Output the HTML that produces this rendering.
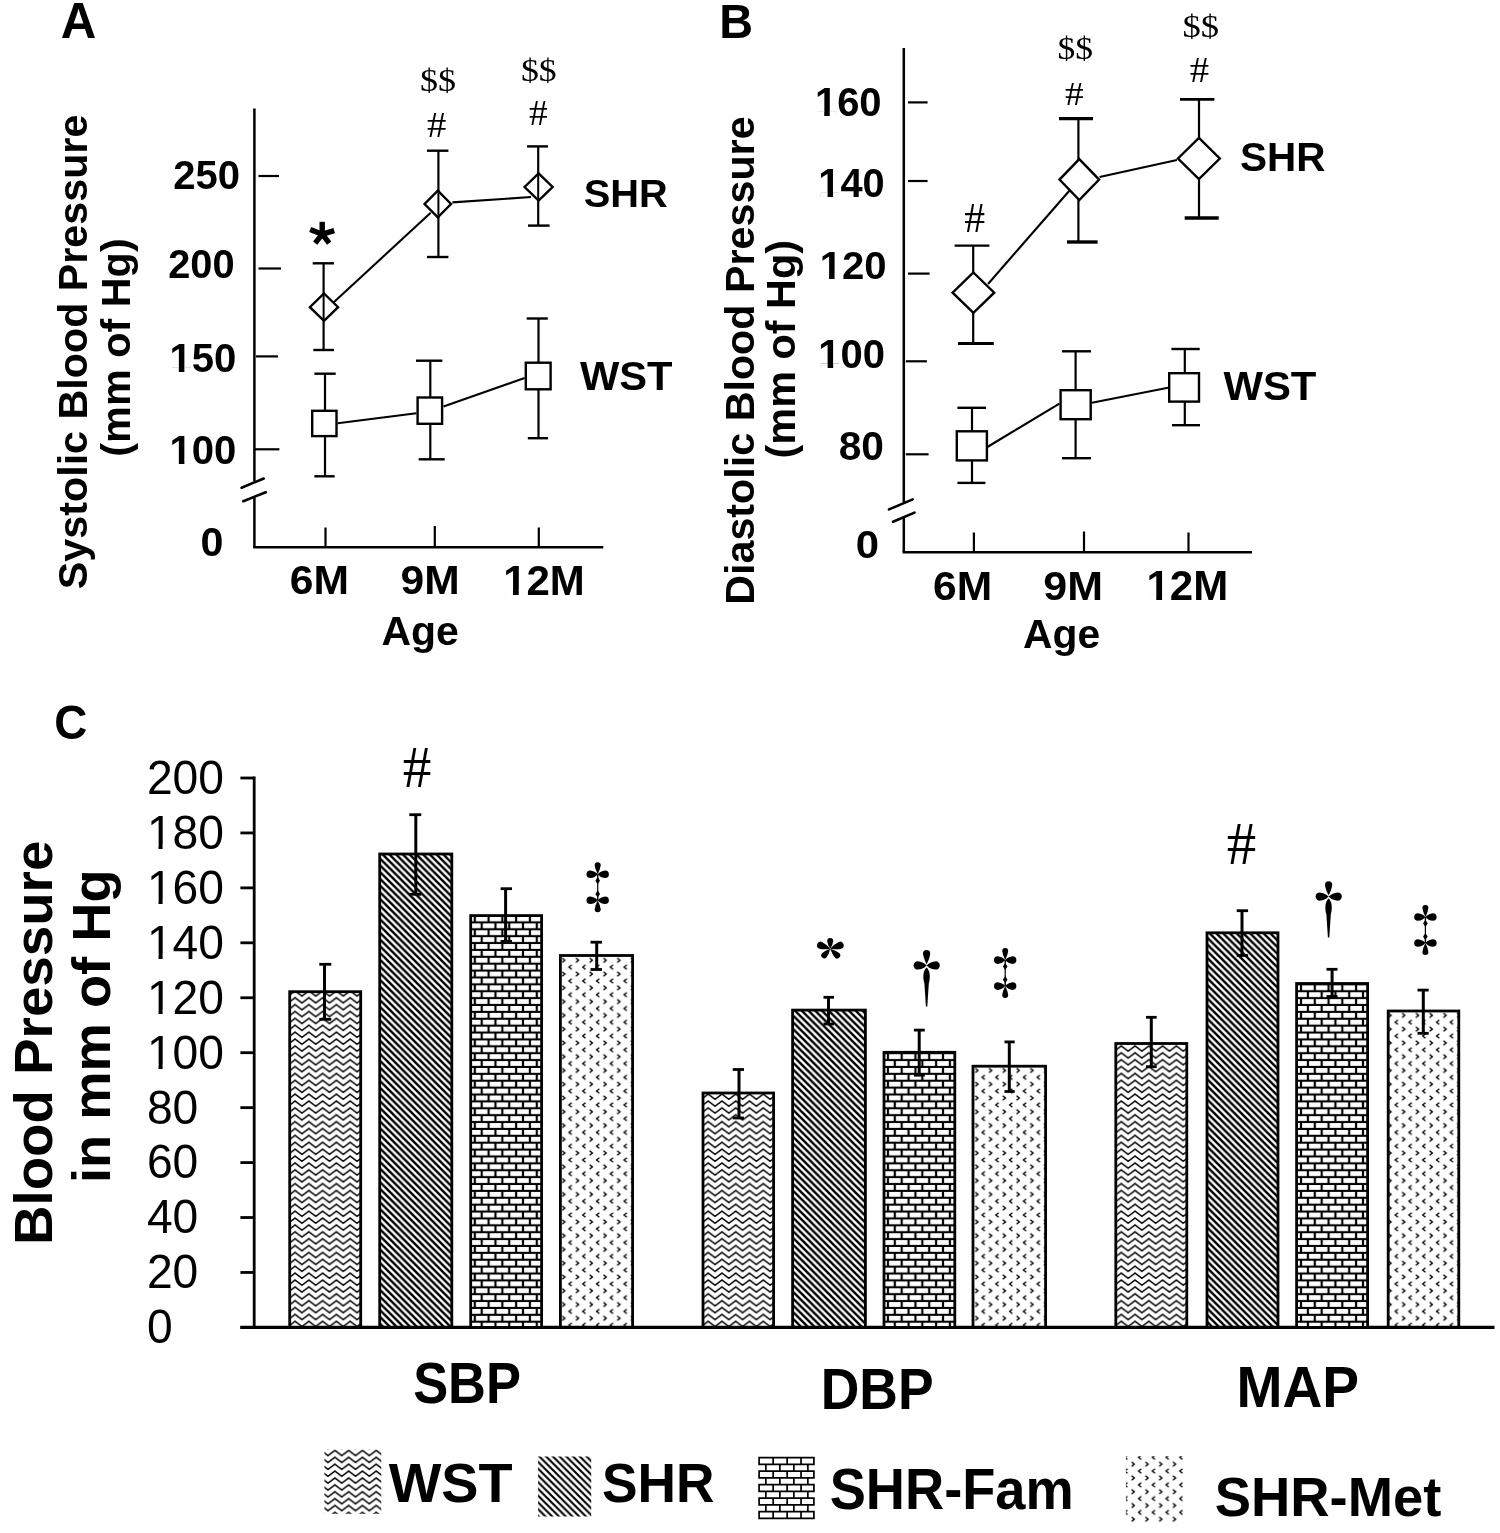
<!DOCTYPE html><html><head><meta charset="utf-8"><style>html,body{margin:0;padding:0;background:#fff;}svg{display:block;filter:grayscale(1);}</style></head><body>
<svg width="1500" height="1533" viewBox="0 0 1500 1533">
<rect width="1500" height="1533" fill="#fff"/>
<g stroke="#000" fill="none">
<line x1="254.40" y1="108.60" x2="254.40" y2="481.00" stroke-width="2.5" stroke-linecap="butt"/>
<line x1="254.40" y1="496.00" x2="254.40" y2="547.50" stroke-width="2.5" stroke-linecap="butt"/>
<line x1="253.20" y1="547.30" x2="603.30" y2="547.30" stroke-width="2.5" stroke-linecap="butt"/>
<line x1="241.60" y1="487.70" x2="263.70" y2="478.50" stroke-width="2.6" stroke-linecap="round"/>
<line x1="243.30" y1="501.20" x2="265.80" y2="492.30" stroke-width="2.6" stroke-linecap="round"/>
<line x1="258.50" y1="176.00" x2="279.00" y2="176.00" stroke-width="2.2" stroke-linecap="butt"/>
<line x1="258.50" y1="268.50" x2="281.00" y2="268.50" stroke-width="2.2" stroke-linecap="butt"/>
<line x1="256.00" y1="356.40" x2="278.00" y2="356.40" stroke-width="2.2" stroke-linecap="butt"/>
<line x1="254.00" y1="449.30" x2="279.40" y2="449.30" stroke-width="2.2" stroke-linecap="butt"/>
<line x1="325.50" y1="527.50" x2="325.50" y2="547.00" stroke-width="2.2" stroke-linecap="butt"/>
<line x1="434.80" y1="526.00" x2="434.80" y2="547.00" stroke-width="2.2" stroke-linecap="butt"/>
<line x1="538.80" y1="527.50" x2="538.80" y2="547.00" stroke-width="2.2" stroke-linecap="butt"/>
<line x1="903.80" y1="48.00" x2="903.80" y2="502.00" stroke-width="2.5" stroke-linecap="butt"/>
<line x1="903.80" y1="516.80" x2="903.80" y2="552.30" stroke-width="2.5" stroke-linecap="butt"/>
<line x1="902.60" y1="552.20" x2="1252.00" y2="552.20" stroke-width="2.5" stroke-linecap="butt"/>
<line x1="889.00" y1="509.40" x2="912.70" y2="499.40" stroke-width="2.6" stroke-linecap="round"/>
<line x1="893.00" y1="521.80" x2="914.50" y2="512.60" stroke-width="2.6" stroke-linecap="round"/>
<line x1="908.00" y1="102.40" x2="927.60" y2="102.40" stroke-width="2.2" stroke-linecap="butt"/>
<line x1="908.00" y1="181.00" x2="927.60" y2="181.00" stroke-width="2.2" stroke-linecap="butt"/>
<line x1="908.00" y1="273.60" x2="929.60" y2="273.60" stroke-width="2.2" stroke-linecap="butt"/>
<line x1="905.80" y1="361.30" x2="926.90" y2="361.30" stroke-width="2.2" stroke-linecap="butt"/>
<line x1="905.80" y1="454.30" x2="928.60" y2="454.30" stroke-width="2.2" stroke-linecap="butt"/>
<line x1="973.90" y1="532.50" x2="973.90" y2="552.00" stroke-width="2.2" stroke-linecap="butt"/>
<line x1="1084.00" y1="531.50" x2="1084.00" y2="552.00" stroke-width="2.2" stroke-linecap="butt"/>
<line x1="1188.50" y1="532.50" x2="1188.50" y2="552.00" stroke-width="2.2" stroke-linecap="butt"/>
</g>
<g stroke="#000" fill="none">
<line x1="332.70" y1="303.30" x2="430.70" y2="212.70" stroke-width="2.1" stroke-linecap="butt"/>
<line x1="452.40" y1="202.40" x2="531.00" y2="197.00" stroke-width="2.1" stroke-linecap="butt"/>
<line x1="337.70" y1="423.30" x2="416.40" y2="413.30" stroke-width="2.1" stroke-linecap="butt"/>
<line x1="443.50" y1="406.60" x2="524.60" y2="378.00" stroke-width="2.1" stroke-linecap="butt"/>
<line x1="323.60" y1="263.30" x2="323.60" y2="350.00" stroke-width="2.2" stroke-linecap="butt"/>
<line x1="312.70" y1="263.30" x2="334.00" y2="263.30" stroke-width="2.4" stroke-linecap="butt"/>
<line x1="313.30" y1="350.00" x2="334.00" y2="350.00" stroke-width="2.4" stroke-linecap="butt"/>
<line x1="438.40" y1="150.70" x2="438.40" y2="257.00" stroke-width="2.2" stroke-linecap="butt"/>
<line x1="427.00" y1="150.70" x2="448.40" y2="150.70" stroke-width="2.4" stroke-linecap="butt"/>
<line x1="427.00" y1="257.00" x2="448.40" y2="257.00" stroke-width="2.4" stroke-linecap="butt"/>
<line x1="538.20" y1="146.40" x2="538.20" y2="225.60" stroke-width="2.2" stroke-linecap="butt"/>
<line x1="527.00" y1="146.40" x2="548.00" y2="146.40" stroke-width="2.4" stroke-linecap="butt"/>
<line x1="528.00" y1="225.60" x2="549.60" y2="225.60" stroke-width="2.4" stroke-linecap="butt"/>
<polygon points="324.00,293.50 338.10,307.20 324.00,320.90 309.90,307.20" stroke-width="2.4" fill="#fff"/>
<polygon points="437.80,190.60 451.00,204.00 437.80,217.40 424.60,204.00" stroke-width="2.4" fill="#fff"/>
<polygon points="538.60,173.40 552.60,187.00 538.60,200.60 524.60,187.00" stroke-width="2.4" fill="#fff"/>
<line x1="323.60" y1="293.00" x2="323.60" y2="321.00" stroke-width="2.0" stroke-linecap="butt"/>
<line x1="438.40" y1="190.00" x2="438.40" y2="218.00" stroke-width="2.0" stroke-linecap="butt"/>
<line x1="538.20" y1="173.00" x2="538.20" y2="201.00" stroke-width="2.0" stroke-linecap="butt"/>
<line x1="325.00" y1="373.70" x2="325.00" y2="476.30" stroke-width="2.2" stroke-linecap="butt"/>
<line x1="314.40" y1="373.70" x2="335.70" y2="373.70" stroke-width="2.4" stroke-linecap="butt"/>
<line x1="314.40" y1="476.30" x2="334.70" y2="476.30" stroke-width="2.4" stroke-linecap="butt"/>
<line x1="430.30" y1="360.70" x2="430.30" y2="459.30" stroke-width="2.2" stroke-linecap="butt"/>
<line x1="416.00" y1="360.70" x2="442.40" y2="360.70" stroke-width="2.4" stroke-linecap="butt"/>
<line x1="418.70" y1="459.30" x2="444.70" y2="459.30" stroke-width="2.4" stroke-linecap="butt"/>
<line x1="538.50" y1="318.50" x2="538.50" y2="438.20" stroke-width="2.2" stroke-linecap="butt"/>
<line x1="526.70" y1="318.50" x2="547.80" y2="318.50" stroke-width="2.4" stroke-linecap="butt"/>
<line x1="527.80" y1="438.20" x2="548.00" y2="438.20" stroke-width="2.4" stroke-linecap="butt"/>
<rect x="312.20" y="410.80" width="24.30" height="25.30" stroke-width="2.4" fill="#fff"/>
<rect x="417.60" y="397.50" width="24.50" height="26.30" stroke-width="2.4" fill="#fff"/>
<rect x="525.80" y="362.70" width="24.80" height="26.60" stroke-width="2.4" fill="#fff"/>
<line x1="988.00" y1="284.00" x2="1070.00" y2="190.00" stroke-width="2.1" stroke-linecap="butt"/>
<line x1="1099.60" y1="177.00" x2="1177.00" y2="160.00" stroke-width="2.1" stroke-linecap="butt"/>
<line x1="987.40" y1="447.00" x2="1059.40" y2="403.60" stroke-width="2.1" stroke-linecap="butt"/>
<line x1="1091.90" y1="402.80" x2="1168.00" y2="387.70" stroke-width="2.1" stroke-linecap="butt"/>
<line x1="973.20" y1="245.60" x2="973.20" y2="343.50" stroke-width="2.2" stroke-linecap="butt"/>
<line x1="954.60" y1="245.60" x2="989.40" y2="245.60" stroke-width="2.4" stroke-linecap="butt"/>
<line x1="958.00" y1="343.50" x2="993.80" y2="343.50" stroke-width="3.2" stroke-linecap="butt"/>
<line x1="1078.40" y1="118.60" x2="1078.40" y2="242.00" stroke-width="2.2" stroke-linecap="butt"/>
<line x1="1059.00" y1="118.60" x2="1093.00" y2="118.60" stroke-width="3.2" stroke-linecap="butt"/>
<line x1="1067.00" y1="242.00" x2="1097.60" y2="242.00" stroke-width="3.4" stroke-linecap="butt"/>
<line x1="1199.00" y1="99.40" x2="1199.00" y2="218.00" stroke-width="2.2" stroke-linecap="butt"/>
<line x1="1180.00" y1="99.40" x2="1214.40" y2="99.40" stroke-width="2.8" stroke-linecap="butt"/>
<line x1="1184.70" y1="218.00" x2="1218.70" y2="218.00" stroke-width="3.6" stroke-linecap="butt"/>
<polygon points="973.40,272.50 994.20,292.70 973.40,312.90 952.60,292.70" stroke-width="2.4" fill="#fff"/>
<polygon points="1079.30,159.10 1099.10,179.60 1079.30,200.10 1059.50,179.60" stroke-width="2.4" fill="#fff"/>
<polygon points="1198.90,137.90 1219.80,158.50 1198.90,179.10 1178.00,158.50" stroke-width="2.4" fill="#fff"/>
<line x1="972.00" y1="407.80" x2="972.00" y2="482.90" stroke-width="2.2" stroke-linecap="butt"/>
<line x1="957.40" y1="407.80" x2="986.00" y2="407.80" stroke-width="2.4" stroke-linecap="butt"/>
<line x1="957.40" y1="482.90" x2="985.40" y2="482.90" stroke-width="2.4" stroke-linecap="butt"/>
<line x1="1075.60" y1="351.30" x2="1075.60" y2="458.20" stroke-width="2.2" stroke-linecap="butt"/>
<line x1="1062.00" y1="351.30" x2="1091.00" y2="351.30" stroke-width="2.4" stroke-linecap="butt"/>
<line x1="1062.00" y1="458.20" x2="1091.00" y2="458.20" stroke-width="2.4" stroke-linecap="butt"/>
<line x1="1184.80" y1="349.00" x2="1184.80" y2="425.20" stroke-width="2.2" stroke-linecap="butt"/>
<line x1="1171.40" y1="349.00" x2="1199.70" y2="349.00" stroke-width="2.4" stroke-linecap="butt"/>
<line x1="1172.00" y1="425.20" x2="1200.00" y2="425.20" stroke-width="2.4" stroke-linecap="butt"/>
<rect x="956.80" y="431.30" width="30.10" height="29.10" stroke-width="2.4" fill="#fff"/>
<rect x="1060.60" y="390.20" width="30.10" height="29.00" stroke-width="2.4" fill="#fff"/>
<rect x="1169.20" y="373.20" width="29.80" height="28.40" stroke-width="2.4" fill="#fff"/>
</g>
<g fill="#000">
<g transform="translate(60.77,38.00) scale(0.9844,1)"><text font-family="Liberation Sans" font-weight="bold" font-size="50.04">A</text></g>
<g transform="translate(719.24,37.60) scale(0.9709,1)"><text font-family="Liberation Sans" font-weight="bold" font-size="48.29">B</text></g>
<g transform="translate(54.17,738.52) scale(0.9531,1)"><text font-family="Liberation Sans" font-weight="bold" font-size="48.06">C</text></g>
<g transform="translate(173.20,188.59) scale(0.9774,1)"><text font-family="Liberation Sans" font-weight="bold" font-size="40.99">250</text></g>
<g transform="translate(168.21,277.60) scale(0.9918,1)"><text font-family="Liberation Sans" font-weight="bold" font-size="40.14">200</text></g>
<g transform="translate(169.49,372.20) scale(0.9927,1)"><text font-family="Liberation Sans" font-weight="bold" font-size="40.42">150</text><rect x="2.02" y="-4.72" width="7.40" height="5.32" fill="#fff"/><rect x="15.00" y="-4.72" width="7.03" height="5.32" fill="#fff"/></g>
<g transform="translate(169.49,463.60) scale(1.0068,1)"><text font-family="Liberation Sans" font-weight="bold" font-size="39.86">100</text><rect x="1.99" y="-4.67" width="7.29" height="5.27" fill="#fff"/><rect x="14.79" y="-4.67" width="6.94" height="5.27" fill="#fff"/></g>
<g transform="translate(200.55,556.10) scale(1.0208,1)"><text font-family="Liberation Sans" font-weight="bold" font-size="40.42">0</text></g>
<g transform="translate(86.83,589.14) rotate(-90) scale(1.0232,1)"><text font-family="Liberation Sans" font-weight="bold" font-size="40.32">Systolic Blood Pressure</text></g>
<g transform="translate(129.96,456.67) rotate(-90) scale(1.0185,1)"><text font-family="Liberation Sans" font-weight="bold" font-size="40.64">(mm of Hg)</text></g>
<g transform="translate(289.70,594.28) scale(1.0264,1)"><text font-family="Liberation Sans" font-weight="bold" font-size="41.55">6M</text></g>
<g transform="translate(400.51,594.28) scale(1.0244,1)"><text font-family="Liberation Sans" font-weight="bold" font-size="41.55">9M</text></g>
<g transform="translate(503.17,594.70) scale(0.9962,1)"><text font-family="Liberation Sans" font-weight="bold" font-size="42.15">12M</text><rect x="2.11" y="-4.90" width="7.71" height="5.50" fill="#fff"/><rect x="15.64" y="-4.90" width="7.33" height="5.50" fill="#fff"/></g>
<g transform="translate(381.48,644.80) scale(1.0246,1)"><text font-family="Liberation Sans" font-weight="bold" font-size="40.00">Age</text></g>
<g transform="translate(583.81,206.60) scale(1.0058,1)"><text font-family="Liberation Sans" font-weight="bold" font-size="39.58">SHR</text></g>
<g transform="translate(579.90,389.69) scale(1.0133,1)"><text font-family="Liberation Sans" font-weight="bold" font-size="41.13">WST</text></g>
<g transform="translate(420.07,91.49) scale(1.1115,1)"><text font-family="Liberation Serif" font-weight="normal" font-size="32.40">$$</text></g>
<g transform="translate(426.92,137.00) scale(1.1024,1)"><text font-family="Liberation Serif" font-weight="normal" font-size="35.11">#</text></g>
<g transform="translate(520.88,81.13) scale(1.1221,1)"><text font-family="Liberation Serif" font-weight="normal" font-size="31.90">$$</text></g>
<g transform="translate(528.95,125.00) scale(1.0656,1)"><text font-family="Liberation Serif" font-weight="normal" font-size="35.11">#</text></g>
<g transform="translate(814.90,116.00) scale(0.9965,1)"><text font-family="Liberation Sans" font-weight="bold" font-size="40.14">160</text><rect x="2.01" y="-4.69" width="7.35" height="5.29" fill="#fff"/><rect x="14.89" y="-4.69" width="6.98" height="5.29" fill="#fff"/></g>
<g transform="translate(818.32,197.19) scale(0.9696,1)"><text font-family="Liberation Sans" font-weight="bold" font-size="40.99">140</text><rect x="2.05" y="-4.78" width="7.50" height="5.38" fill="#fff"/><rect x="15.21" y="-4.78" width="7.13" height="5.38" fill="#fff"/></g>
<g transform="translate(819.69,279.20) scale(1.0140,1)"><text font-family="Liberation Sans" font-weight="bold" font-size="39.58">120</text><rect x="1.98" y="-4.64" width="7.24" height="5.24" fill="#fff"/><rect x="14.68" y="-4.64" width="6.89" height="5.24" fill="#fff"/></g>
<g transform="translate(818.30,368.40) scale(1.0087,1)"><text font-family="Liberation Sans" font-weight="bold" font-size="39.72">100</text><rect x="1.99" y="-4.65" width="7.27" height="5.25" fill="#fff"/><rect x="14.74" y="-4.65" width="6.91" height="5.25" fill="#fff"/></g>
<g transform="translate(838.68,460.09) scale(0.9992,1)"><text font-family="Liberation Sans" font-weight="bold" font-size="40.71">80</text></g>
<g transform="translate(855.72,557.81) scale(1.0662,1)"><text font-family="Liberation Sans" font-weight="bold" font-size="39.29">0</text></g>
<g transform="translate(754.00,604.79) rotate(-90) scale(1.0320,1)"><text font-family="Liberation Sans" font-weight="bold" font-size="40.00">Diastolic Blood Pressure</text></g>
<g transform="translate(795.40,458.47) rotate(-90) scale(1.0352,1)"><text font-family="Liberation Sans" font-weight="bold" font-size="40.00">(mm of Hg)</text></g>
<g transform="translate(933.10,599.59) scale(1.0280,1)"><text font-family="Liberation Sans" font-weight="bold" font-size="41.41">6M</text></g>
<g transform="translate(1043.30,599.59) scale(1.0373,1)"><text font-family="Liberation Sans" font-weight="bold" font-size="41.41">9M</text></g>
<g transform="translate(1146.47,600.00) scale(0.9996,1)"><text font-family="Liberation Sans" font-weight="bold" font-size="42.01">12M</text><rect x="2.10" y="-4.88" width="7.69" height="5.48" fill="#fff"/><rect x="15.58" y="-4.88" width="7.31" height="5.48" fill="#fff"/></g>
<g transform="translate(1022.98,647.50) scale(1.0205,1)"><text font-family="Liberation Sans" font-weight="bold" font-size="40.00">Age</text></g>
<g transform="translate(1240.09,170.89) scale(0.9946,1)"><text font-family="Liberation Sans" font-weight="bold" font-size="40.71">SHR</text></g>
<g transform="translate(1223.40,399.60) scale(1.0355,1)"><text font-family="Liberation Sans" font-weight="bold" font-size="40.42">WST</text></g>
<g transform="translate(964.27,231.60) scale(1.0047,1)"><text font-family="Liberation Serif" font-weight="normal" font-size="41.53">#</text></g>
<g transform="translate(1064.95,105.00) scale(1.0845,1)"><text font-family="Liberation Serif" font-weight="normal" font-size="34.50">#</text></g>
<g transform="translate(1057.49,59.13) scale(1.1153,1)"><text font-family="Liberation Serif" font-weight="normal" font-size="31.90">$$</text></g>
<g transform="translate(1189.72,82.40) scale(1.1121,1)"><text font-family="Liberation Serif" font-weight="normal" font-size="34.81">#</text></g>
<g transform="translate(1182.44,36.59) scale(1.1767,1)"><text font-family="Liberation Serif" font-weight="normal" font-size="31.15">$$</text></g>
</g>
<g stroke="#000" stroke-width="5.4" stroke-linecap="butt">
<line x1="322.20" y1="234.20" x2="322.20" y2="221.80" stroke-width="5.4" stroke-linecap="butt"/>
<line x1="322.20" y1="234.20" x2="310.20" y2="229.40" stroke-width="5.4" stroke-linecap="butt"/>
<line x1="322.20" y1="234.20" x2="334.20" y2="230.60" stroke-width="5.4" stroke-linecap="butt"/>
<line x1="322.20" y1="234.20" x2="315.20" y2="243.20" stroke-width="5.4" stroke-linecap="butt"/>
<line x1="322.20" y1="234.20" x2="329.20" y2="243.20" stroke-width="5.4" stroke-linecap="butt"/>
</g>
<g stroke="#000" fill="none">
<line x1="254.20" y1="776.60" x2="254.20" y2="1327.40" stroke-width="2.8" stroke-linecap="butt"/>
<line x1="240.40" y1="1327.40" x2="1494.50" y2="1327.40" stroke-width="3.3" stroke-linecap="butt"/>
<line x1="240.40" y1="1327.40" x2="254.20" y2="1327.40" stroke-width="2.8" stroke-linecap="butt"/>
<line x1="240.40" y1="1272.46" x2="254.20" y2="1272.46" stroke-width="2.8" stroke-linecap="butt"/>
<line x1="240.40" y1="1217.52" x2="254.20" y2="1217.52" stroke-width="2.8" stroke-linecap="butt"/>
<line x1="240.40" y1="1162.58" x2="254.20" y2="1162.58" stroke-width="2.8" stroke-linecap="butt"/>
<line x1="240.40" y1="1107.64" x2="254.20" y2="1107.64" stroke-width="2.8" stroke-linecap="butt"/>
<line x1="240.40" y1="1052.70" x2="254.20" y2="1052.70" stroke-width="2.8" stroke-linecap="butt"/>
<line x1="240.40" y1="997.76" x2="254.20" y2="997.76" stroke-width="2.8" stroke-linecap="butt"/>
<line x1="240.40" y1="942.82" x2="254.20" y2="942.82" stroke-width="2.8" stroke-linecap="butt"/>
<line x1="240.40" y1="887.88" x2="254.20" y2="887.88" stroke-width="2.8" stroke-linecap="butt"/>
<line x1="240.40" y1="832.94" x2="254.20" y2="832.94" stroke-width="2.8" stroke-linecap="butt"/>
<line x1="240.40" y1="778.00" x2="254.20" y2="778.00" stroke-width="2.8" stroke-linecap="butt"/>
</g>
<g fill="#000">
<g transform="translate(146.9,1343.30) scale(0.967,1)"><text font-family="Liberation Sans" font-size="47.8">0</text></g>
<g transform="translate(146.9,1288.36) scale(0.967,1)"><text font-family="Liberation Sans" font-size="47.8">20</text></g>
<g transform="translate(146.9,1233.42) scale(0.967,1)"><text font-family="Liberation Sans" font-size="47.8">40</text></g>
<g transform="translate(146.9,1178.48) scale(0.967,1)"><text font-family="Liberation Sans" font-size="47.8">60</text></g>
<g transform="translate(146.9,1123.54) scale(0.967,1)"><text font-family="Liberation Sans" font-size="47.8">80</text></g>
<g transform="translate(146.9,1068.60) scale(0.967,1)"><text font-family="Liberation Sans" font-size="47.8">100</text><rect x="2.87" y="-4.18" width="9.13" height="4.78" fill="#fff"/><rect x="16.25" y="-4.18" width="8.84" height="4.78" fill="#fff"/></g>
<g transform="translate(146.9,1013.66) scale(0.967,1)"><text font-family="Liberation Sans" font-size="47.8">120</text><rect x="2.87" y="-4.18" width="9.13" height="4.78" fill="#fff"/><rect x="16.25" y="-4.18" width="8.84" height="4.78" fill="#fff"/></g>
<g transform="translate(146.9,958.72) scale(0.967,1)"><text font-family="Liberation Sans" font-size="47.8">140</text><rect x="2.87" y="-4.18" width="9.13" height="4.78" fill="#fff"/><rect x="16.25" y="-4.18" width="8.84" height="4.78" fill="#fff"/></g>
<g transform="translate(146.9,903.78) scale(0.967,1)"><text font-family="Liberation Sans" font-size="47.8">160</text><rect x="2.87" y="-4.18" width="9.13" height="4.78" fill="#fff"/><rect x="16.25" y="-4.18" width="8.84" height="4.78" fill="#fff"/></g>
<g transform="translate(146.9,848.84) scale(0.967,1)"><text font-family="Liberation Sans" font-size="47.8">180</text><rect x="2.87" y="-4.18" width="9.13" height="4.78" fill="#fff"/><rect x="16.25" y="-4.18" width="8.84" height="4.78" fill="#fff"/></g>
<g transform="translate(146.9,793.90) scale(0.967,1)"><text font-family="Liberation Sans" font-size="47.8">200</text></g>
<g transform="translate(51.96,1245.09) rotate(-90) scale(1.0210,1)"><text font-family="Liberation Sans" font-weight="bold" font-size="53.61">Blood Pressure</text></g>
<g transform="translate(110.07,1183.10) rotate(-90) scale(1.0185,1)"><text font-family="Liberation Sans" font-weight="bold" font-size="53.33">in mm of Hg</text></g>
<g transform="translate(413.13,1403.43) scale(0.9277,1)"><text font-family="Liberation Sans" font-weight="bold" font-size="56.54">SBP</text></g>
<g transform="translate(820.79,1408.60) scale(0.9395,1)"><text font-family="Liberation Sans" font-weight="bold" font-size="56.87">DBP</text></g>
<g transform="translate(1236.47,1407.20) scale(0.9533,1)"><text font-family="Liberation Sans" font-weight="bold" font-size="57.89">MAP</text></g>
<g transform="translate(388.66,1502.44) scale(1.0014,1)"><text font-family="Liberation Sans" font-weight="bold" font-size="55.69">WST</text></g>
<g transform="translate(602.00,1502.35) scale(0.9620,1)"><text font-family="Liberation Sans" font-weight="bold" font-size="55.41">SHR</text></g>
<g transform="translate(829.67,1508.63) scale(0.9546,1)"><text font-family="Liberation Sans" font-weight="bold" font-size="56.82">SHR-Fam</text></g>
<g transform="translate(1214.77,1516.44) scale(0.9672,1)"><text font-family="Liberation Sans" font-weight="bold" font-size="56.25">SHR-Met</text></g>
<g transform="translate(402.80,786.90) scale(0.9534,1)"><text font-family="Liberation Serif" font-weight="normal" font-size="60.00">#</text></g>
<g transform="translate(1226.87,863.50) scale(0.9649,1)"><text font-family="Liberation Serif" font-weight="normal" font-size="61.07">#</text></g>
</g>
<defs><pattern id="p1" patternUnits="userSpaceOnUse" x="295.10" y="997.70" width="13.77" height="6.885"><path d="M-6.88,-1.58 L0.00,-6.88 L6.88,-1.58 L13.77,-6.88 L20.66,-1.58 M-6.88,5.30 L0.00,0.00 L6.88,5.30 L13.77,0.00 L20.66,5.30 M-6.88,12.18 L0.00,6.88 L6.88,12.18 L13.77,6.88 L20.66,12.18" fill="none" stroke="#000" stroke-width="1.45" stroke-linejoin="miter"/></pattern></defs>
<rect x="289.70" y="991.70" width="71.00" height="335.70" fill="url(#p1)" stroke="#000" stroke-width="2.8"/>
<g stroke="#000">
<line x1="324.50" y1="964.30" x2="324.50" y2="1019.30" stroke-width="3.0" stroke-linecap="butt"/>
<line x1="319.30" y1="964.30" x2="331.30" y2="964.30" stroke-width="2.8" stroke-linecap="butt"/>
<line x1="319.30" y1="1019.30" x2="331.30" y2="1019.30" stroke-width="2.8" stroke-linecap="butt"/>
</g>
<defs><pattern id="p2" patternUnits="userSpaceOnUse" x="0.00" y="0.00" width="6.74" height="6.74"><path d="M-6.74,-6.74 L13.48,13.48 M-6.74,0 L6.74,13.48 M0,-6.74 L13.48,6.74" fill="none" stroke="#000" stroke-width="2.45"/></pattern></defs>
<rect x="379.70" y="854.00" width="72.10" height="473.40" fill="url(#p2)" stroke="#000" stroke-width="2.8"/>
<g stroke="#000">
<line x1="415.80" y1="814.70" x2="415.80" y2="894.30" stroke-width="3.0" stroke-linecap="butt"/>
<line x1="409.30" y1="814.70" x2="421.30" y2="814.70" stroke-width="2.8" stroke-linecap="butt"/>
<line x1="409.30" y1="894.30" x2="421.30" y2="894.30" stroke-width="2.8" stroke-linecap="butt"/>
</g>
<defs><pattern id="p3" patternUnits="userSpaceOnUse" x="481.70" y="923.40" width="13.77" height="13.77"><rect width="13.77" height="13.77" fill="#000"/><rect x="1.1" y="0" width="11.57" height="4.8" fill="#fff"/><rect x="7.984999999999999" y="6.885" width="11.57" height="4.8" fill="#fff"/><rect x="-5.785" y="6.885" width="11.57" height="4.8" fill="#fff"/></pattern></defs>
<rect x="470.70" y="915.60" width="70.90" height="411.80" fill="url(#p3)" stroke="#000" stroke-width="2.8"/>
<g stroke="#000">
<line x1="505.60" y1="888.70" x2="505.60" y2="941.40" stroke-width="3.0" stroke-linecap="butt"/>
<line x1="500.60" y1="888.70" x2="512.00" y2="888.70" stroke-width="2.8" stroke-linecap="butt"/>
<line x1="500.60" y1="941.40" x2="512.00" y2="941.40" stroke-width="2.8" stroke-linecap="butt"/>
</g>
<defs><pattern id="p4" patternUnits="userSpaceOnUse" x="563.50" y="960.30" width="13.77" height="13.77"><path d="M-1.40,-2.30 L1.40,0.00 L-1.40,2.30 M12.37,-2.30 L15.17,0.00 L12.37,2.30 M-1.40,11.47 L1.40,13.77 L-1.40,16.07 M12.37,11.47 L15.17,13.77 L12.37,16.07 M8.29,4.58 L5.48,6.88 L8.29,9.18" fill="none" stroke="#000" stroke-width="1.35" stroke-linejoin="miter"/></pattern></defs>
<rect x="560.40" y="955.50" width="72.20" height="371.90" fill="url(#p4)" stroke="#000" stroke-width="2.8"/>
<g stroke="#000">
<line x1="596.70" y1="942.20" x2="596.70" y2="969.50" stroke-width="3.0" stroke-linecap="butt"/>
<line x1="590.50" y1="942.20" x2="602.00" y2="942.20" stroke-width="2.8" stroke-linecap="butt"/>
<line x1="590.50" y1="969.50" x2="602.00" y2="969.50" stroke-width="2.8" stroke-linecap="butt"/>
</g>
<defs><pattern id="p5" patternUnits="userSpaceOnUse" x="295.10" y="997.70" width="13.77" height="6.885"><path d="M-6.88,-1.58 L0.00,-6.88 L6.88,-1.58 L13.77,-6.88 L20.66,-1.58 M-6.88,5.30 L0.00,0.00 L6.88,5.30 L13.77,0.00 L20.66,5.30 M-6.88,12.18 L0.00,6.88 L6.88,12.18 L13.77,6.88 L20.66,12.18" fill="none" stroke="#000" stroke-width="1.45" stroke-linejoin="miter"/></pattern></defs>
<rect x="703.00" y="1093.00" width="70.60" height="234.40" fill="url(#p5)" stroke="#000" stroke-width="2.8"/>
<g stroke="#000">
<line x1="739.00" y1="1069.50" x2="739.00" y2="1118.00" stroke-width="3.0" stroke-linecap="butt"/>
<line x1="732.70" y1="1069.50" x2="744.00" y2="1069.50" stroke-width="2.8" stroke-linecap="butt"/>
<line x1="732.70" y1="1118.00" x2="744.00" y2="1118.00" stroke-width="2.8" stroke-linecap="butt"/>
</g>
<defs><pattern id="p6" patternUnits="userSpaceOnUse" x="0.00" y="0.00" width="6.74" height="6.74"><path d="M-6.74,-6.74 L13.48,13.48 M-6.74,0 L6.74,13.48 M0,-6.74 L13.48,6.74" fill="none" stroke="#000" stroke-width="2.45"/></pattern></defs>
<rect x="792.60" y="1010.10" width="72.80" height="317.30" fill="url(#p6)" stroke="#000" stroke-width="2.8"/>
<g stroke="#000">
<line x1="828.50" y1="997.30" x2="828.50" y2="1024.00" stroke-width="3.0" stroke-linecap="butt"/>
<line x1="823.50" y1="997.30" x2="834.00" y2="997.30" stroke-width="2.8" stroke-linecap="butt"/>
<line x1="823.50" y1="1024.00" x2="834.00" y2="1024.00" stroke-width="2.8" stroke-linecap="butt"/>
</g>
<defs><pattern id="p7" patternUnits="userSpaceOnUse" x="481.70" y="923.40" width="13.77" height="13.77"><rect width="13.77" height="13.77" fill="#000"/><rect x="1.1" y="0" width="11.57" height="4.8" fill="#fff"/><rect x="7.984999999999999" y="6.885" width="11.57" height="4.8" fill="#fff"/><rect x="-5.785" y="6.885" width="11.57" height="4.8" fill="#fff"/></pattern></defs>
<rect x="884.00" y="1052.30" width="70.80" height="275.10" fill="url(#p7)" stroke="#000" stroke-width="2.8"/>
<g stroke="#000">
<line x1="919.20" y1="1030.10" x2="919.20" y2="1075.20" stroke-width="3.0" stroke-linecap="butt"/>
<line x1="913.90" y1="1030.10" x2="924.80" y2="1030.10" stroke-width="2.8" stroke-linecap="butt"/>
<line x1="913.90" y1="1075.20" x2="924.80" y2="1075.20" stroke-width="2.8" stroke-linecap="butt"/>
</g>
<defs><pattern id="p8" patternUnits="userSpaceOnUse" x="563.50" y="960.30" width="13.77" height="13.77"><path d="M-1.40,-2.30 L1.40,0.00 L-1.40,2.30 M12.37,-2.30 L15.17,0.00 L12.37,2.30 M-1.40,11.47 L1.40,13.77 L-1.40,16.07 M12.37,11.47 L15.17,13.77 L12.37,16.07 M8.29,4.58 L5.48,6.88 L8.29,9.18" fill="none" stroke="#000" stroke-width="1.35" stroke-linejoin="miter"/></pattern></defs>
<rect x="973.00" y="1066.20" width="72.60" height="261.20" fill="url(#p8)" stroke="#000" stroke-width="2.8"/>
<g stroke="#000">
<line x1="1009.30" y1="1041.90" x2="1009.30" y2="1091.50" stroke-width="3.0" stroke-linecap="butt"/>
<line x1="1004.50" y1="1041.90" x2="1014.70" y2="1041.90" stroke-width="2.8" stroke-linecap="butt"/>
<line x1="1004.50" y1="1091.50" x2="1014.70" y2="1091.50" stroke-width="2.8" stroke-linecap="butt"/>
</g>
<defs><pattern id="p9" patternUnits="userSpaceOnUse" x="295.10" y="997.70" width="13.77" height="6.885"><path d="M-6.88,-1.58 L0.00,-6.88 L6.88,-1.58 L13.77,-6.88 L20.66,-1.58 M-6.88,5.30 L0.00,0.00 L6.88,5.30 L13.77,0.00 L20.66,5.30 M-6.88,12.18 L0.00,6.88 L6.88,12.18 L13.77,6.88 L20.66,12.18" fill="none" stroke="#000" stroke-width="1.45" stroke-linejoin="miter"/></pattern></defs>
<rect x="1115.80" y="1043.50" width="71.00" height="283.90" fill="url(#p9)" stroke="#000" stroke-width="2.8"/>
<g stroke="#000">
<line x1="1151.30" y1="1017.30" x2="1151.30" y2="1066.70" stroke-width="3.0" stroke-linecap="butt"/>
<line x1="1146.00" y1="1017.30" x2="1156.70" y2="1017.30" stroke-width="2.8" stroke-linecap="butt"/>
<line x1="1146.00" y1="1066.70" x2="1156.70" y2="1066.70" stroke-width="2.8" stroke-linecap="butt"/>
</g>
<defs><pattern id="p10" patternUnits="userSpaceOnUse" x="0.00" y="0.00" width="6.74" height="6.74"><path d="M-6.74,-6.74 L13.48,13.48 M-6.74,0 L6.74,13.48 M0,-6.74 L13.48,6.74" fill="none" stroke="#000" stroke-width="2.45"/></pattern></defs>
<rect x="1207.00" y="932.80" width="71.00" height="394.60" fill="url(#p10)" stroke="#000" stroke-width="2.8"/>
<g stroke="#000">
<line x1="1242.00" y1="910.70" x2="1242.00" y2="955.50" stroke-width="3.0" stroke-linecap="butt"/>
<line x1="1236.70" y1="910.70" x2="1248.10" y2="910.70" stroke-width="2.8" stroke-linecap="butt"/>
<line x1="1236.70" y1="955.50" x2="1248.10" y2="955.50" stroke-width="2.8" stroke-linecap="butt"/>
</g>
<defs><pattern id="p11" patternUnits="userSpaceOnUse" x="481.70" y="923.40" width="13.77" height="13.77"><rect width="13.77" height="13.77" fill="#000"/><rect x="1.1" y="0" width="11.57" height="4.8" fill="#fff"/><rect x="7.984999999999999" y="6.885" width="11.57" height="4.8" fill="#fff"/><rect x="-5.785" y="6.885" width="11.57" height="4.8" fill="#fff"/></pattern></defs>
<rect x="1296.60" y="983.50" width="71.00" height="343.90" fill="url(#p11)" stroke="#000" stroke-width="2.8"/>
<g stroke="#000">
<line x1="1332.10" y1="969.30" x2="1332.10" y2="996.50" stroke-width="3.0" stroke-linecap="butt"/>
<line x1="1326.50" y1="969.30" x2="1337.50" y2="969.30" stroke-width="2.8" stroke-linecap="butt"/>
<line x1="1326.50" y1="996.50" x2="1337.50" y2="996.50" stroke-width="2.8" stroke-linecap="butt"/>
</g>
<defs><pattern id="p12" patternUnits="userSpaceOnUse" x="563.50" y="960.30" width="13.77" height="13.77"><path d="M-1.40,-2.30 L1.40,0.00 L-1.40,2.30 M12.37,-2.30 L15.17,0.00 L12.37,2.30 M-1.40,11.47 L1.40,13.77 L-1.40,16.07 M12.37,11.47 L15.17,13.77 L12.37,16.07 M8.29,4.58 L5.48,6.88 L8.29,9.18" fill="none" stroke="#000" stroke-width="1.35" stroke-linejoin="miter"/></pattern></defs>
<rect x="1388.20" y="1011.00" width="70.60" height="316.40" fill="url(#p12)" stroke="#000" stroke-width="2.8"/>
<g stroke="#000">
<line x1="1423.30" y1="990.10" x2="1423.30" y2="1033.30" stroke-width="3.0" stroke-linecap="butt"/>
<line x1="1417.50" y1="990.10" x2="1428.70" y2="990.10" stroke-width="2.8" stroke-linecap="butt"/>
<line x1="1417.50" y1="1033.30" x2="1428.70" y2="1033.30" stroke-width="2.8" stroke-linecap="butt"/>
</g>
<defs><pattern id="p13" patternUnits="userSpaceOnUse" x="334.90" y="1450.40" width="13.77" height="6.885"><path d="M-6.88,-1.58 L0.00,-6.88 L6.88,-1.58 L13.77,-6.88 L20.66,-1.58 M-6.88,5.30 L0.00,0.00 L6.88,5.30 L13.77,0.00 L20.66,5.30 M-6.88,12.18 L0.00,6.88 L6.88,12.18 L13.77,6.88 L20.66,12.18" fill="none" stroke="#000" stroke-width="1.5" stroke-linejoin="miter"/></pattern></defs>
<rect x="324.4" y="1449.5" width="56.90" height="64.30" fill="url(#p13)"/>
<defs><pattern id="p14" patternUnits="userSpaceOnUse" x="539.50" y="1456.60" width="6.74" height="6.74"><path d="M-6.74,-6.74 L13.48,13.48 M-6.74,0 L6.74,13.48 M0,-6.74 L13.48,6.74" fill="none" stroke="#000" stroke-width="2.1"/></pattern></defs>
<rect x="538.1" y="1456.5" width="53.10" height="60.00" fill="url(#p14)"/>
<defs><pattern id="p15" patternUnits="userSpaceOnUse" x="1133.00" y="1464.20" width="13.77" height="13.77"><path d="M-1.40,-2.30 L1.40,0.00 L-1.40,2.30 M12.37,-2.30 L15.17,0.00 L12.37,2.30 M-1.40,11.47 L1.40,13.77 L-1.40,16.07 M12.37,11.47 L15.17,13.77 L12.37,16.07 M8.29,4.58 L5.48,6.88 L8.29,9.18" fill="none" stroke="#000" stroke-width="1.3" stroke-linejoin="miter"/></pattern></defs>
<rect x="1125.9" y="1456.1" width="57.70" height="66.30" fill="url(#p15)"/>
<path d="M758.25,1456.75h56.50v1.70h-56.50zM758.25,1463.50h56.50v1.70h-56.50zM758.25,1470.25h56.50v1.70h-56.50zM758.25,1477.00h56.50v1.70h-56.50zM758.25,1483.75h56.50v1.70h-56.50zM758.25,1490.50h56.50v1.70h-56.50zM758.25,1497.25h56.50v1.70h-56.50zM758.25,1504.00h56.50v1.70h-56.50zM758.25,1510.75h56.50v1.70h-56.50zM758.25,1517.50h56.50v1.70h-56.50zM758.25,1456.75h1.70v8.45h-1.70zM772.30,1456.75h1.70v8.45h-1.70zM786.30,1456.75h1.70v8.45h-1.70zM800.20,1456.75h1.70v8.45h-1.70zM813.05,1456.75h1.70v8.45h-1.70zM765.00,1463.50h1.70v8.45h-1.70zM779.00,1463.50h1.70v8.45h-1.70zM793.00,1463.50h1.70v8.45h-1.70zM807.00,1463.50h1.70v8.45h-1.70zM758.25,1470.25h1.70v8.45h-1.70zM772.30,1470.25h1.70v8.45h-1.70zM786.30,1470.25h1.70v8.45h-1.70zM800.20,1470.25h1.70v8.45h-1.70zM813.05,1470.25h1.70v8.45h-1.70zM765.00,1477.00h1.70v8.45h-1.70zM779.00,1477.00h1.70v8.45h-1.70zM793.00,1477.00h1.70v8.45h-1.70zM807.00,1477.00h1.70v8.45h-1.70zM758.25,1483.75h1.70v8.45h-1.70zM772.30,1483.75h1.70v8.45h-1.70zM786.30,1483.75h1.70v8.45h-1.70zM800.20,1483.75h1.70v8.45h-1.70zM813.05,1483.75h1.70v8.45h-1.70zM765.00,1490.50h1.70v8.45h-1.70zM779.00,1490.50h1.70v8.45h-1.70zM793.00,1490.50h1.70v8.45h-1.70zM807.00,1490.50h1.70v8.45h-1.70zM758.25,1497.25h1.70v8.45h-1.70zM772.30,1497.25h1.70v8.45h-1.70zM786.30,1497.25h1.70v8.45h-1.70zM800.20,1497.25h1.70v8.45h-1.70zM813.05,1497.25h1.70v8.45h-1.70zM765.00,1504.00h1.70v8.45h-1.70zM779.00,1504.00h1.70v8.45h-1.70zM793.00,1504.00h1.70v8.45h-1.70zM807.00,1504.00h1.70v8.45h-1.70zM758.25,1510.75h1.70v8.45h-1.70zM772.30,1510.75h1.70v8.45h-1.70zM786.30,1510.75h1.70v8.45h-1.70zM800.20,1510.75h1.70v8.45h-1.70zM813.05,1510.75h1.70v8.45h-1.70z" fill="#000"/>
<path d="M926.60,964.40 Q923.36,957.92 923.00,953.60 A3.60,3.60 0 1 1 930.20,953.60 Q929.84,957.92 926.60,964.40 Z" fill="#000"/>
<path d="M926.60,965.40 Q922.84,969.18 917.80,969.60 A4.20,4.20 0 1 1 917.80,961.20 Q922.84,961.62 926.60,965.40 Z" fill="#000"/>
<path d="M926.60,965.40 Q930.56,961.62 935.60,961.20 A4.20,4.20 0 1 1 935.60,969.60 Q930.56,969.18 926.60,965.40 Z" fill="#000"/>
<path d="M926.6,967.4 C930.2,970.4 930.6,977.4 928.8000000000001,983.4 L927.3000000000001,1006.4 L925.9,1006.4 L924.4,983.4 C922.6,977.4 923.0,970.4 926.6,967.4 Z" fill="#000"/>
<path d="M1328.60,895.60 Q1325.36,889.12 1325.00,884.80 A3.60,3.60 0 1 1 1332.20,884.80 Q1331.84,889.12 1328.60,895.60 Z" fill="#000"/>
<path d="M1328.60,896.60 Q1324.84,900.38 1319.80,900.80 A4.20,4.20 0 1 1 1319.80,892.40 Q1324.84,892.82 1328.60,896.60 Z" fill="#000"/>
<path d="M1328.60,896.60 Q1332.56,892.82 1337.60,892.40 A4.20,4.20 0 1 1 1337.60,900.80 Q1332.56,900.38 1328.60,896.60 Z" fill="#000"/>
<path d="M1328.6,898.6 C1332.1999999999998,901.6 1332.6,908.6 1330.8,914.6 L1329.3,937.6 L1327.8999999999999,937.6 L1326.3999999999999,914.6 C1324.6,908.6 1325.0,901.6 1328.6,898.6 Z" fill="#000"/>
<path d="M1005.20,960.10 Q1002.50,954.70 1002.20,951.10 A3.00,3.00 0 1 1 1008.20,951.10 Q1007.90,954.70 1005.20,960.10 Z" fill="#000"/>
<path d="M1005.20,960.10 Q1002.36,963.52 997.80,963.90 A3.80,3.80 0 1 1 997.80,956.30 Q1002.36,956.68 1005.20,960.10 Z" fill="#000"/>
<path d="M1005.20,960.10 Q1008.04,956.68 1012.60,956.30 A3.80,3.80 0 1 1 1012.60,963.90 Q1008.04,963.52 1005.20,960.10 Z" fill="#000"/>
<path d="M1005.2,962.9 L1007.5,966.5 L1005.2,970.1 L1002.9000000000001,966.5 Z" fill="#000"/>
<path d="M1004.5,960.1 L1005.9000000000001,960.1 L1005.9000000000001,966.5 L1004.5,966.5 Z" fill="#000"/>
<path d="M1005.20,986.10 Q1007.90,991.50 1008.20,995.10 A3.00,3.00 0 1 1 1002.20,995.10 Q1002.50,991.50 1005.20,986.10 Z" fill="#000"/>
<path d="M1005.20,986.10 Q1002.36,989.52 997.80,989.90 A3.80,3.80 0 1 1 997.80,982.30 Q1002.36,982.68 1005.20,986.10 Z" fill="#000"/>
<path d="M1005.20,986.10 Q1008.04,982.68 1012.60,982.30 A3.80,3.80 0 1 1 1012.60,989.90 Q1008.04,989.52 1005.20,986.10 Z" fill="#000"/>
<path d="M1005.2,976.1 L1007.5,979.7 L1005.2,983.3000000000001 L1002.9000000000001,979.7 Z" fill="#000"/>
<path d="M1004.5,986.1 L1005.9000000000001,986.1 L1005.9000000000001,979.7 L1004.5,979.7 Z" fill="#000"/>
<path d="M1004.6,966.1 L1005.8000000000001,966.1 L1005.8000000000001,980.1 L1004.6,980.1 Z" fill="#000"/>
<path d="M597.70,874.30 Q595.00,868.90 594.70,865.30 A3.00,3.00 0 1 1 600.70,865.30 Q600.40,868.90 597.70,874.30 Z" fill="#000"/>
<path d="M597.70,874.30 Q594.86,877.72 590.30,878.10 A3.80,3.80 0 1 1 590.30,870.50 Q594.86,870.88 597.70,874.30 Z" fill="#000"/>
<path d="M597.70,874.30 Q600.54,870.88 605.10,870.50 A3.80,3.80 0 1 1 605.10,878.10 Q600.54,877.72 597.70,874.30 Z" fill="#000"/>
<path d="M597.7,877.0999999999999 L600.0,880.6999999999999 L597.7,884.3 L595.4000000000001,880.6999999999999 Z" fill="#000"/>
<path d="M597.0,874.3 L598.4000000000001,874.3 L598.4000000000001,880.6999999999999 L597.0,880.6999999999999 Z" fill="#000"/>
<path d="M597.70,900.30 Q600.40,905.70 600.70,909.30 A3.00,3.00 0 1 1 594.70,909.30 Q595.00,905.70 597.70,900.30 Z" fill="#000"/>
<path d="M597.70,900.30 Q594.86,903.72 590.30,904.10 A3.80,3.80 0 1 1 590.30,896.50 Q594.86,896.88 597.70,900.30 Z" fill="#000"/>
<path d="M597.70,900.30 Q600.54,896.88 605.10,896.50 A3.80,3.80 0 1 1 605.10,904.10 Q600.54,903.72 597.70,900.30 Z" fill="#000"/>
<path d="M597.7,890.3 L600.0,893.9 L597.7,897.5 L595.4000000000001,893.9 Z" fill="#000"/>
<path d="M597.0,900.3 L598.4000000000001,900.3 L598.4000000000001,893.9 L597.0,893.9 Z" fill="#000"/>
<path d="M597.1,880.3 L598.3000000000001,880.3 L598.3000000000001,894.3 L597.1,894.3 Z" fill="#000"/>
<path d="M1425.40,917.00 Q1422.70,911.60 1422.40,908.00 A3.00,3.00 0 1 1 1428.40,908.00 Q1428.10,911.60 1425.40,917.00 Z" fill="#000"/>
<path d="M1425.40,917.00 Q1422.56,920.42 1418.00,920.80 A3.80,3.80 0 1 1 1418.00,913.20 Q1422.56,913.58 1425.40,917.00 Z" fill="#000"/>
<path d="M1425.40,917.00 Q1428.24,913.58 1432.80,913.20 A3.80,3.80 0 1 1 1432.80,920.80 Q1428.24,920.42 1425.40,917.00 Z" fill="#000"/>
<path d="M1425.4,919.8 L1427.7,923.4 L1425.4,927.0 L1423.1000000000001,923.4 Z" fill="#000"/>
<path d="M1424.7,917.0 L1426.1000000000001,917.0 L1426.1000000000001,923.4 L1424.7,923.4 Z" fill="#000"/>
<path d="M1425.40,943.00 Q1428.10,948.40 1428.40,952.00 A3.00,3.00 0 1 1 1422.40,952.00 Q1422.70,948.40 1425.40,943.00 Z" fill="#000"/>
<path d="M1425.40,943.00 Q1422.56,946.42 1418.00,946.80 A3.80,3.80 0 1 1 1418.00,939.20 Q1422.56,939.58 1425.40,943.00 Z" fill="#000"/>
<path d="M1425.40,943.00 Q1428.24,939.58 1432.80,939.20 A3.80,3.80 0 1 1 1432.80,946.80 Q1428.24,946.42 1425.40,943.00 Z" fill="#000"/>
<path d="M1425.4,933.0 L1427.7,936.6 L1425.4,940.2 L1423.1000000000001,936.6 Z" fill="#000"/>
<path d="M1424.7,943.0 L1426.1000000000001,943.0 L1426.1000000000001,936.6 L1424.7,936.6 Z" fill="#000"/>
<path d="M1424.8000000000002,923.0 L1426.0,923.0 L1426.0,937.0 L1424.8000000000002,937.0 Z" fill="#000"/>
<path d="M830.20,948.70 Q827.50,944.60 827.20,941.00 A3.00,3.00 0 1 1 833.20,941.00 Q832.90,944.60 830.20,948.70 Z" fill="#000"/>
<path d="M830.20,948.70 Q823.68,949.81 819.49,948.69 A3.60,3.60 0 1 1 821.91,941.91 Q825.86,943.71 830.20,948.70 Z" fill="#000"/>
<path d="M830.20,948.70 Q834.86,943.65 838.82,941.90 A3.60,3.60 0 1 1 841.18,948.70 Q836.98,949.78 830.20,948.70 Z" fill="#000"/>
<path d="M830.20,948.70 Q828.86,954.39 826.61,957.37 A3.10,3.10 0 1 1 821.99,953.23 Q824.70,950.67 830.20,948.70 Z" fill="#000"/>
<path d="M830.20,948.70 Q836.27,950.71 839.16,953.08 A3.10,3.10 0 1 1 834.84,957.52 Q832.39,954.71 830.20,948.70 Z" fill="#000"/>
</svg></body></html>
